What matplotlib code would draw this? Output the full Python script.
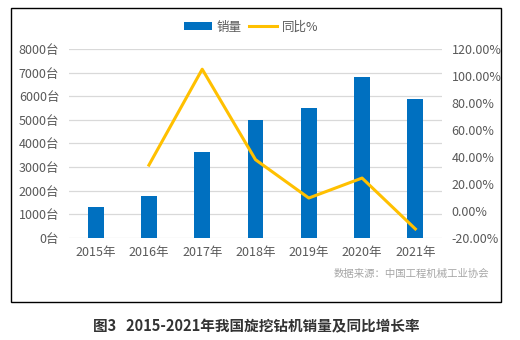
import matplotlib
matplotlib.use("Agg")
import matplotlib.pyplot as plt
from matplotlib.patches import Rectangle
from matplotlib.ticker import FuncFormatter

plt.rcParams['font.family'] = ['Noto Sans CJK SC', 'DejaVu Sans']

years = ['2015年', '2016年', '2017年', '2018年', '2019年', '2020年', '2021年']
sales = [1310, 1780, 3640, 5000, 5510, 6820, 5890]
# 同比增长率 (%), 2015 has no value
yoy = [None, 34.0, 105.0, 38.0, 9.6, 24.4, -13.3]

bar_color = '#0070C0'
line_color = '#FFC000'
text_color = '#595959'

fig = plt.figure(figsize=(5.2, 3.4), dpi=100)
ax = fig.add_axes([69 / 520, 0.30, 373 / 520, 0.556])

x = list(range(len(years)))
ax.bar(x, sales, width=0.3, color=bar_color, label='销量', zorder=2)
ax.set_xlim(-0.5, len(years) - 0.5)
ax.set_ylim(0, 8000)
ax.set_yticks(range(0, 8001, 1000))
ax.yaxis.set_major_formatter(FuncFormatter(lambda v, p: f'{int(v)}台'))
ax.set_xticks(x)
ax.set_xticklabels(years)
ax.grid(axis='y', color='#D9D9D9', linewidth=0.9, zorder=0)
ax.set_axisbelow(True)

ax2 = ax.twinx()
lx = [i for i, v in zip(x, yoy) if v is not None]
ly = [v for v in yoy if v is not None]
ax2.plot(lx, ly, color=line_color, linewidth=2.2, label='同比%', zorder=3)
ax2.set_ylim(-20, 120)
ax2.set_yticks(range(-20, 121, 20))
ax2.yaxis.set_major_formatter(FuncFormatter(lambda v, p: f'{v:.2f}%'))

for a in (ax, ax2):
    for s in a.spines.values():
        s.set_visible(False)
    a.tick_params(length=0, labelsize=9, colors=text_color)
ax.tick_params(axis='y', pad=7)
ax.tick_params(axis='x', pad=6)
ax2.tick_params(axis='y', pad=7)

h1, l1 = ax.get_legend_handles_labels()
h2, l2 = ax2.get_legend_handles_labels()
leg = fig.legend(h1 + h2, l1 + l2, loc='center', bbox_to_anchor=(251 / 520, 1 - 27 / 340),
                 ncol=2, frameon=False, fontsize=9, handlelength=2.2, handleheight=0.6,
                 columnspacing=0.6, handletextpad=0.4)
for t in leg.get_texts():
    t.set_color(text_color)

fig.text(489 / 520, 1 - 274 / 340, '数据来源：中国工程机械工业协会', ha='right', va='center',
         fontsize=7.5, color='#A6A6A6')

# outer frame
fig.patches.append(Rectangle((11 / 520, 1 - 302 / 340), 490 / 520, 294 / 340,
                             transform=fig.transFigure, fill=False, edgecolor='black',
                             linewidth=1.0))

fig.text(256 / 520, 1 - 326 / 340, '图3   2015-2021年我国旋挖钻机销量及同比增长率',
         ha='center', va='center', fontsize=10.5, fontweight='bold', color='#333333')

fig.savefig('out.png', dpi=100)
